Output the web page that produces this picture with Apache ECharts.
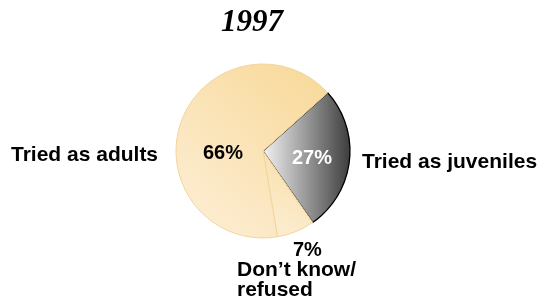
<!DOCTYPE html>
<html>
<head>
<meta charset="utf-8">
<script src="https://cdn.jsdelivr.net/npm/echarts@6/dist/echarts.min.js"></script>
<style>
  html, body { margin: 0; padding: 0; background: #fff; }
  #chart { width: 551px; height: 306px; }
</style>
</head>
<body>
<div id="chart"></div>
<script>
// 1997 survey split
const titleText = '1997';
const categories = ['Tried as juveniles', 'Don\u2019t know/\nrefused', 'Tried as adults'];
const values = [27, 7, 66];

const sans = 'Arial, "Liberation Sans", sans-serif';

const sliceStyles = [
  {
    color: { type: 'linear', x: 0, y: 0, x2: 1, y2: 0,
      colorStops: [{ offset: 0, color: '#f4f4f4' }, { offset: 1, color: '#3c3c3c' }] },
    borderColor: '#000', borderWidth: 1.3
  },
  {
    color: { type: 'linear', x: 0, y: 1, x2: 1, y2: 0,
      colorStops: [{ offset: 0, color: '#fdefd6' }, { offset: 1, color: '#f8dca4' }] },
    borderColor: '#f2d49c', borderWidth: 1
  },
  {
    color: { type: 'linear', x: 0, y: 1, x2: 1, y2: 0,
      colorStops: [{ offset: 0, color: '#fdefd9' }, { offset: 1, color: '#f8d896' }] },
    borderColor: '#f3d59c', borderWidth: 1
  }
];
const innerColors = ['#fff', '#000', '#000'];

const chart = echarts.init(document.getElementById('chart'));

const center = [263, 151];
const radius = 87;

// inner labels (percent) placement
const innerPos = [[312, 158], null, [223, 153]];
// outer name labels placement
const outerPos = [[362, 162], [237, 240], [11, 155]];

chart.setOption({
  animation: false,
  title: {
    text: titleText,
    left: 216,
    top: 2,
    textStyle: {
      fontFamily: '"Times New Roman", "Liberation Serif", serif',
      fontStyle: 'italic',
      fontWeight: 'bold',
      fontSize: 31,
      color: '#000'
    }
  },
  series: [
    {
      type: 'pie',
      center: center,
      radius: radius,
      startAngle: 42,
      clockwise: true,
      silent: true,
      emphasis: { disabled: true },
      data: values.map((v, i) => ({
        value: v,
        name: categories[i],
        itemStyle: sliceStyles[i],
        label: { show: i !== 1, color: innerColors[i] }
      })),
      label: {
        position: 'inside',
        formatter: p => p.value + '%',
        fontFamily: sans,
        fontWeight: 'bold',
        fontSize: 20,
        overflow: 'none'
      },
      labelLine: { show: false },
      labelLayout: p => {
        const pos = innerPos[p.dataIndex];
        if (!pos) return {};
        return { x: pos[0], y: pos[1], align: 'center', verticalAlign: 'middle' };
      }
    },
    {
      type: 'pie',
      center: center,
      radius: radius,
      startAngle: 42,
      clockwise: true,
      silent: true,
      emphasis: { disabled: true },
      itemStyle: { color: 'rgba(0,0,0,0)', borderWidth: 0 },
      data: values.map((v, i) => ({ value: v, name: categories[i] })),
      label: {
        position: 'outside',
        fontFamily: sans,
        fontWeight: 'bold',
        fontSize: 21,
        color: '#000',
        overflow: 'none',
        formatter: p => {
          if (p.dataIndex === 1) {
            return '{p|' + p.value + '%}\n' + p.name.split('\n').map(s => '{n|' + s + '}').join('\n');
          }
          return p.name;
        },
        rich: {
          p: { fontFamily: sans, fontWeight: 'bold', fontSize: 20, color: '#000', lineHeight: 20, padding: [0, 0, 0, 56] },
          n: { fontFamily: sans, fontWeight: 'bold', fontSize: 21, color: '#000', lineHeight: 20 }
        }
      },
      labelLine: { show: false },
      labelLayout: p => {
        const pos = outerPos[p.dataIndex];
        if (p.dataIndex === 1) {
          return { x: pos[0], y: pos[1], align: 'left', verticalAlign: 'top' };
        }
        return { x: pos[0], y: pos[1], align: 'left', verticalAlign: 'middle' };
      }
    }
  ]
});
</script>
</body>
</html>
